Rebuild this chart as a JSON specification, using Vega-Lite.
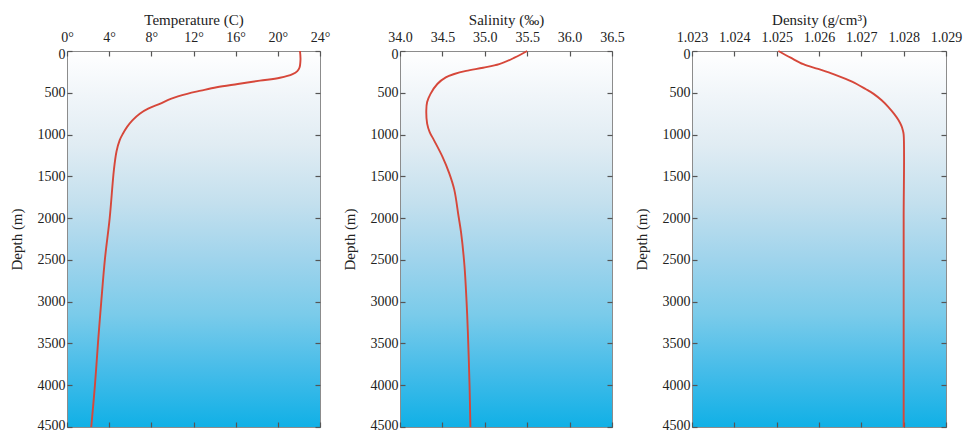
{
  "$schema": "https://vega.github.io/schema/vega-lite/v6.json",
  "autosize": {"type": "pad"},
  "padding": {"left": 8, "top": 11, "right": 10, "bottom": 4},
  "background": "white",
  "spacing": 80,
  "bounds": "flush",
  "datasets": {
    "temp": [
      {"depth": 0, "value": 22.1}, {"depth": 100, "value": 22.15}, {"depth": 200, "value": 22.05},
      {"depth": 240, "value": 21.85}, {"depth": 276, "value": 21.4}, {"depth": 320, "value": 20.2},
      {"depth": 355, "value": 18.3}, {"depth": 395, "value": 16.2}, {"depth": 434, "value": 14.2},
      {"depth": 475, "value": 12.7}, {"depth": 513, "value": 11.4}, {"depth": 570, "value": 9.9},
      {"depth": 632, "value": 8.8}, {"depth": 690, "value": 7.7}, {"depth": 750, "value": 6.9},
      {"depth": 830, "value": 6.2}, {"depth": 908, "value": 5.7}, {"depth": 990, "value": 5.3},
      {"depth": 1066, "value": 5.0}, {"depth": 1200, "value": 4.7}, {"depth": 1422, "value": 4.45},
      {"depth": 2000, "value": 4.05}, {"depth": 2488, "value": 3.6}, {"depth": 3000, "value": 3.25},
      {"depth": 3475, "value": 2.95}, {"depth": 4000, "value": 2.65}, {"depth": 4500, "value": 2.3}
    ],
    "sal": [
      {"depth": 0, "value": 35.5}, {"depth": 80, "value": 35.35}, {"depth": 158, "value": 35.17},
      {"depth": 200, "value": 34.98}, {"depth": 237, "value": 34.78}, {"depth": 275, "value": 34.64},
      {"depth": 316, "value": 34.54}, {"depth": 395, "value": 34.44}, {"depth": 513, "value": 34.36},
      {"depth": 611, "value": 34.32}, {"depth": 711, "value": 34.31}, {"depth": 869, "value": 34.32},
      {"depth": 970, "value": 34.35}, {"depth": 1066, "value": 34.4}, {"depth": 1264, "value": 34.5},
      {"depth": 1461, "value": 34.58}, {"depth": 1659, "value": 34.64}, {"depth": 1975, "value": 34.69},
      {"depth": 2172, "value": 34.72}, {"depth": 2567, "value": 34.76}, {"depth": 3000, "value": 34.785},
      {"depth": 3357, "value": 34.8}, {"depth": 4000, "value": 34.82}, {"depth": 4500, "value": 34.83}
    ],
    "dens": [
      {"depth": 0, "value": 1.02504}, {"depth": 80, "value": 1.02533}, {"depth": 158, "value": 1.02563},
      {"depth": 215, "value": 1.02598}, {"depth": 276, "value": 1.02634}, {"depth": 335, "value": 1.02663},
      {"depth": 395, "value": 1.02689}, {"depth": 455, "value": 1.0271}, {"depth": 513, "value": 1.02729},
      {"depth": 590, "value": 1.02748}, {"depth": 671, "value": 1.02764}, {"depth": 750, "value": 1.02777},
      {"depth": 829, "value": 1.02788}, {"depth": 900, "value": 1.02795}, {"depth": 948, "value": 1.02798},
      {"depth": 1000, "value": 1.028}, {"depth": 2000, "value": 1.028}, {"depth": 3000, "value": 1.028},
      {"depth": 4500, "value": 1.028}
    ]
  },
  "config": {
    "font": "Liberation Serif",
    "view": {
      "stroke": "#8c8c8c",
      "strokeWidth": 1,
      "fill": {
        "gradient": "linear", "x1": 0, "y1": 0, "x2": 0, "y2": 1,
        "stops": [
          {"offset": 0, "color": "#ffffff"},
          {"offset": 0.12, "color": "#f0f5f9"},
          {"offset": 0.25, "color": "#e0ecf3"},
          {"offset": 0.4, "color": "#c4e0ee"},
          {"offset": 0.55, "color": "#a0d4ec"},
          {"offset": 0.7, "color": "#7acbea"},
          {"offset": 0.85, "color": "#45bce9"},
          {"offset": 1, "color": "#10b0e6"}
        ]
      }
    },
    "axis": {
      "grid": false,
      "domain": false,
      "tickColor": "#555555",
      "tickWidth": 1.2,
      "tickSize": -5,
      "labelOverlap": false,
      "labelFlush": false,
      "labelFont": "Liberation Serif",
      "labelFontSize": 14,
      "labelColor": "#222222",
      "titleFont": "Liberation Serif",
      "titleFontSize": 15,
      "titleFontWeight": "normal",
      "titleColor": "#222222"
    },
    "line": {"color": "#d6473a", "strokeWidth": 1.9, "interpolate": "catmull-rom"}
  },
  "hconcat": [
    {
      "width": 253, "height": 376,
      "data": {"name": "temp"},
      "resolve": {"axis": {"x": "independent", "y": "independent"}},
      "layer": [
        {
          "mark": {"type": "line", "orient": "vertical"},
          "encoding": {
            "x": {"field": "value", "type": "quantitative", "scale": {"domain": [0, 24], "nice": false, "zero": false},
                  "axis": {"orient": "top", "title": "Temperature (C)", "values": [0, 4, 8, 12, 16, 20, 24], "labelExpr": "datum.value + '°'", "labelPadding": 12, "titlePadding": 3}},
            "y": {"field": "depth", "type": "quantitative", "scale": {"domain": [0, 4500], "reverse": true, "nice": false},
                  "axis": {"orient": "left", "title": "Depth (m)", "format": "d", "values": [0, 500, 1000, 1500, 2000, 2500, 3000, 3500, 4000, 4500], "labelPadding": 7, "titlePadding": 13, "labelOffset": {"condition": [{"test": "datum.value === 0", "value": 3}, {"test": "datum.value === 4500", "value": -2}], "value": 0}}},
            "order": {"field": "depth", "type": "quantitative"}
          }
        },
        {
          "mark": {"type": "line", "opacity": 0},
          "encoding": {
            "x": {"field": "value", "type": "quantitative", "axis": {"orient": "bottom", "title": null, "labels": false, "values": [0, 4, 8, 12, 16, 20, 24]}},
            "y": {"field": "depth", "type": "quantitative", "axis": {"orient": "right", "title": null, "labels": false, "values": [0, 500, 1000, 1500, 2000, 2500, 3000, 3500, 4000, 4500]}},
            "order": {"field": "depth", "type": "quantitative"}
          }
        }
      ]
    },
    {
      "width": 212, "height": 376,
      "data": {"name": "sal"},
      "resolve": {"axis": {"x": "independent", "y": "independent"}},
      "layer": [
        {
          "mark": {"type": "line", "orient": "vertical"},
          "encoding": {
            "x": {"field": "value", "type": "quantitative", "scale": {"domain": [34, 36.5], "nice": false, "zero": false},
                  "axis": {"orient": "top", "title": "Salinity (‰)", "values": [34, 34.5, 35, 35.5, 36, 36.5], "format": ".1f", "labelPadding": 12, "titlePadding": 3}},
            "y": {"field": "depth", "type": "quantitative", "scale": {"domain": [0, 4500], "reverse": true, "nice": false},
                  "axis": {"orient": "left", "title": "Depth (m)", "format": "d", "values": [0, 500, 1000, 1500, 2000, 2500, 3000, 3500, 4000, 4500], "labelPadding": 7, "titlePadding": 13, "labelOffset": {"condition": [{"test": "datum.value === 0", "value": 3}, {"test": "datum.value === 4500", "value": -2}], "value": 0}}},
            "order": {"field": "depth", "type": "quantitative"}
          }
        },
        {
          "mark": {"type": "line", "opacity": 0},
          "encoding": {
            "x": {"field": "value", "type": "quantitative", "axis": {"orient": "bottom", "title": null, "labels": false, "values": [34, 34.5, 35, 35.5, 36, 36.5]}},
            "y": {"field": "depth", "type": "quantitative", "axis": {"orient": "right", "title": null, "labels": false, "values": [0, 500, 1000, 1500, 2000, 2500, 3000, 3500, 4000, 4500]}},
            "order": {"field": "depth", "type": "quantitative"}
          }
        }
      ]
    },
    {
      "width": 254, "height": 376,
      "data": {"name": "dens"},
      "resolve": {"axis": {"x": "independent", "y": "independent"}},
      "layer": [
        {
          "mark": {"type": "line", "orient": "vertical"},
          "encoding": {
            "x": {"field": "value", "type": "quantitative", "scale": {"domain": [1.023, 1.029], "nice": false, "zero": false},
                  "axis": {"orient": "top", "title": "Density (g/cm³)", "values": [1.023, 1.024, 1.025, 1.026, 1.027, 1.028, 1.029], "format": ".3f", "labelPadding": 12, "titlePadding": 3}},
            "y": {"field": "depth", "type": "quantitative", "scale": {"domain": [0, 4500], "reverse": true, "nice": false},
                  "axis": {"orient": "left", "title": "Depth (m)", "format": "d", "values": [0, 500, 1000, 1500, 2000, 2500, 3000, 3500, 4000, 4500], "labelPadding": 7, "titlePadding": 13, "labelOffset": {"condition": [{"test": "datum.value === 0", "value": 3}, {"test": "datum.value === 4500", "value": -2}], "value": 0}}},
            "order": {"field": "depth", "type": "quantitative"}
          }
        },
        {
          "mark": {"type": "line", "opacity": 0},
          "encoding": {
            "x": {"field": "value", "type": "quantitative", "axis": {"orient": "bottom", "title": null, "labels": false, "values": [1.023, 1.024, 1.025, 1.026, 1.027, 1.028, 1.029]}},
            "y": {"field": "depth", "type": "quantitative", "axis": {"orient": "right", "title": null, "labels": false, "values": [0, 500, 1000, 1500, 2000, 2500, 3000, 3500, 4000, 4500]}},
            "order": {"field": "depth", "type": "quantitative"}
          }
        }
      ]
    }
  ]
}
